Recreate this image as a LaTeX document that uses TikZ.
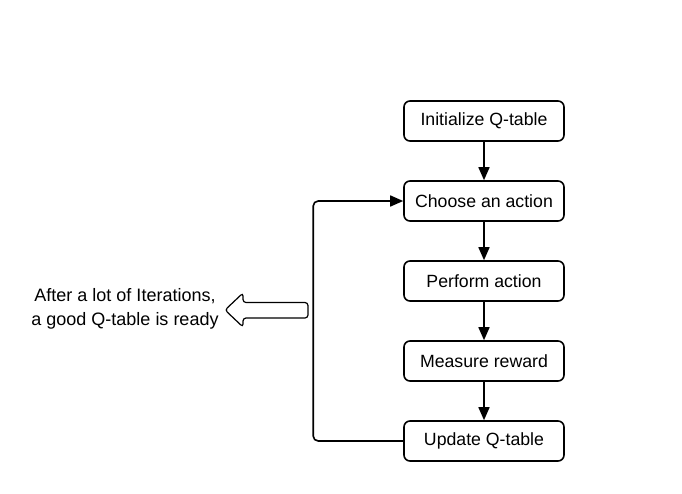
\documentclass[tikz,border=0pt]{standalone}
\usepackage{fontspec}
\setmainfont{Liberation Sans}
\usetikzlibrary{positioning,arrows.meta}

\begin{document}
\begin{tikzpicture}[
    x=1pt, y=-1pt,
    node distance=38.4pt,
    stepbox/.style={draw, line width=1.6pt, rounded corners=6pt, minimum width=160pt, minimum height=40pt, inner sep=0pt, font=\fontsize{17.7}{21}\selectfont},
    flow/.style={line width=1.6pt, -{Triangle[length=13pt,width=11pt]}}
]
\useasboundingbox (0,0) rectangle (682,493);

% Main steps
\node[stepbox] (init) at (484,121) {Initialize Q-table};
\node[stepbox, below=of init] (choose) {Choose an action};
\node[stepbox, below=of choose] (perform) {Perform action};
\node[stepbox, below=of perform] (measure) {Measure reward};
\node[stepbox, below=of measure] (update) {Update Q-table};

% Edges
\foreach \a/\b in {init/choose,choose/perform,perform/measure,measure/update}{
  \draw[flow] (\a) -- (\b);
}

% Loop back
\draw[flow, rounded corners=5pt] (update.west) -- ++(-90,0) |- (choose.west);

% Result arrow (hollow)
\draw[line width=1.2pt, rounded corners=3pt] (225,310) -- (243,293) -- (243,302.5) -- (308,302.5)
  -- (308,318) -- (243,318) -- (243,327) -- cycle;
\node[align=center, font=\fontsize{18}{24}\selectfont] (note) at (125,309) {After a lot of Iterations,\\a good Q-table is ready};

\end{tikzpicture}
\end{document}
